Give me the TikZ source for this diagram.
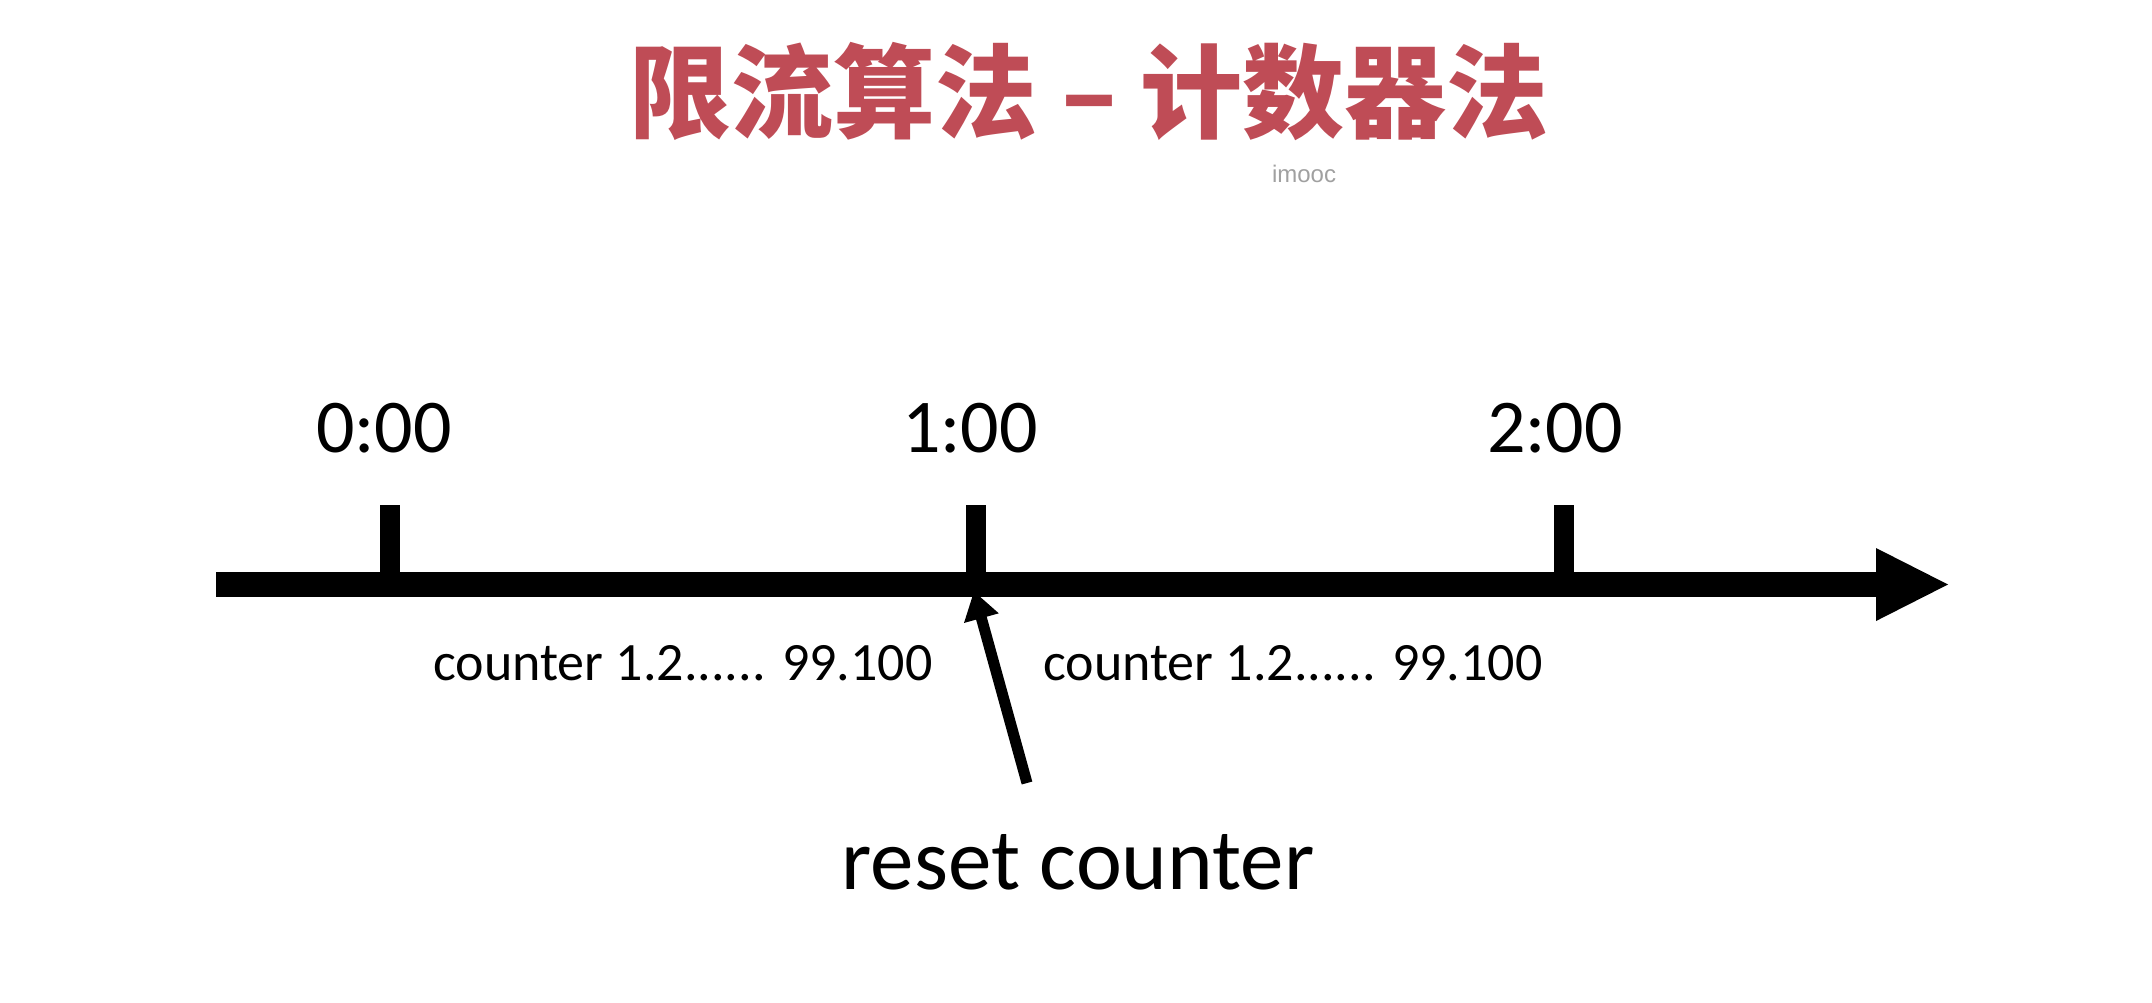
\documentclass[tikz,border=0pt]{standalone}
\usepackage{fontspec}
\setmainfont{Carlito}
\newfontfamily\cjk{Noto Sans CJK SC}
\newfontfamily\arial{Liberation Sans}
\usetikzlibrary{arrows.meta}
\definecolor{titlered}{RGB}{191,76,86}
\definecolor{wmgray}{RGB}{160,160,160}
\tikzset{
  timelabel/.style={inner sep=0pt, font=\fontsize{38pt}{40pt}\selectfont},
  countlabel/.style={inner sep=0pt, font=\fontsize{27pt}{29pt}\selectfont},
  ticktick/.style={line width=10pt, line cap=butt},
  axisline/.style={line width=12.5pt, line cap=butt},
  resetarrow/.style={line width=5.5pt, -{Triangle[length=14pt,width=17pt]}, shorten >=-2pt}
}
\begin{document}
\begin{tikzpicture}[x=0.5pt,y=-0.5pt]
\useasboundingbox (0,0) rectangle (2152,1002);
% title
\node[inner sep=0pt, text=titlered, font=\cjk\bfseries\fontsize{51pt}{53pt}\selectfont] (title) at (1089,92) {限流算法 – 计数器法};
\node[inner sep=0pt, text=wmgray, font=\arial\fontsize{12pt}{14pt}\selectfont] (wm) at (1304,174) {imooc};
% axis
\coordinate (axstart) at (216,584.5);
\coordinate (axend) at (1880,584.5);
\draw[axisline] (axstart) -- (axend);
\fill (1876,548) -- (1948,584.5) -- (1876,621) -- cycle;
% ticks
\coordinate (t0) at (390,584.5);
\coordinate (t1) at (976,584.5);
\coordinate (t2) at (1564,584.5);
\draw[ticktick] (t0) -- ++(0,-79.5);
\draw[ticktick] (t1) -- ++(0,-79.5);
\draw[ticktick] (t2) -- ++(0,-79.5);
% time labels
\node[timelabel] (l0) at (384,428) {0:00};
\node[timelabel] (l1) at (970,428) {1:00};
\node[timelabel] (l2) at (1555,428) {2:00};
% counter labels
\node[countlabel] (c1) at (683,663) {counter 1.2...... 99.100};
\node[countlabel] (c2) at (1293,663) {counter 1.2...... 99.100};
% reset arrow
\node[inner sep=0pt, font=\fontsize{43.5pt}{45pt}\selectfont] (reset) at (1078,862) {reset counter};
\coordinate (rtail) at (1027,783);
\coordinate (rtip) at (975,595);
\draw[resetarrow] (rtail) -- (rtip);
\end{tikzpicture}
\end{document}
